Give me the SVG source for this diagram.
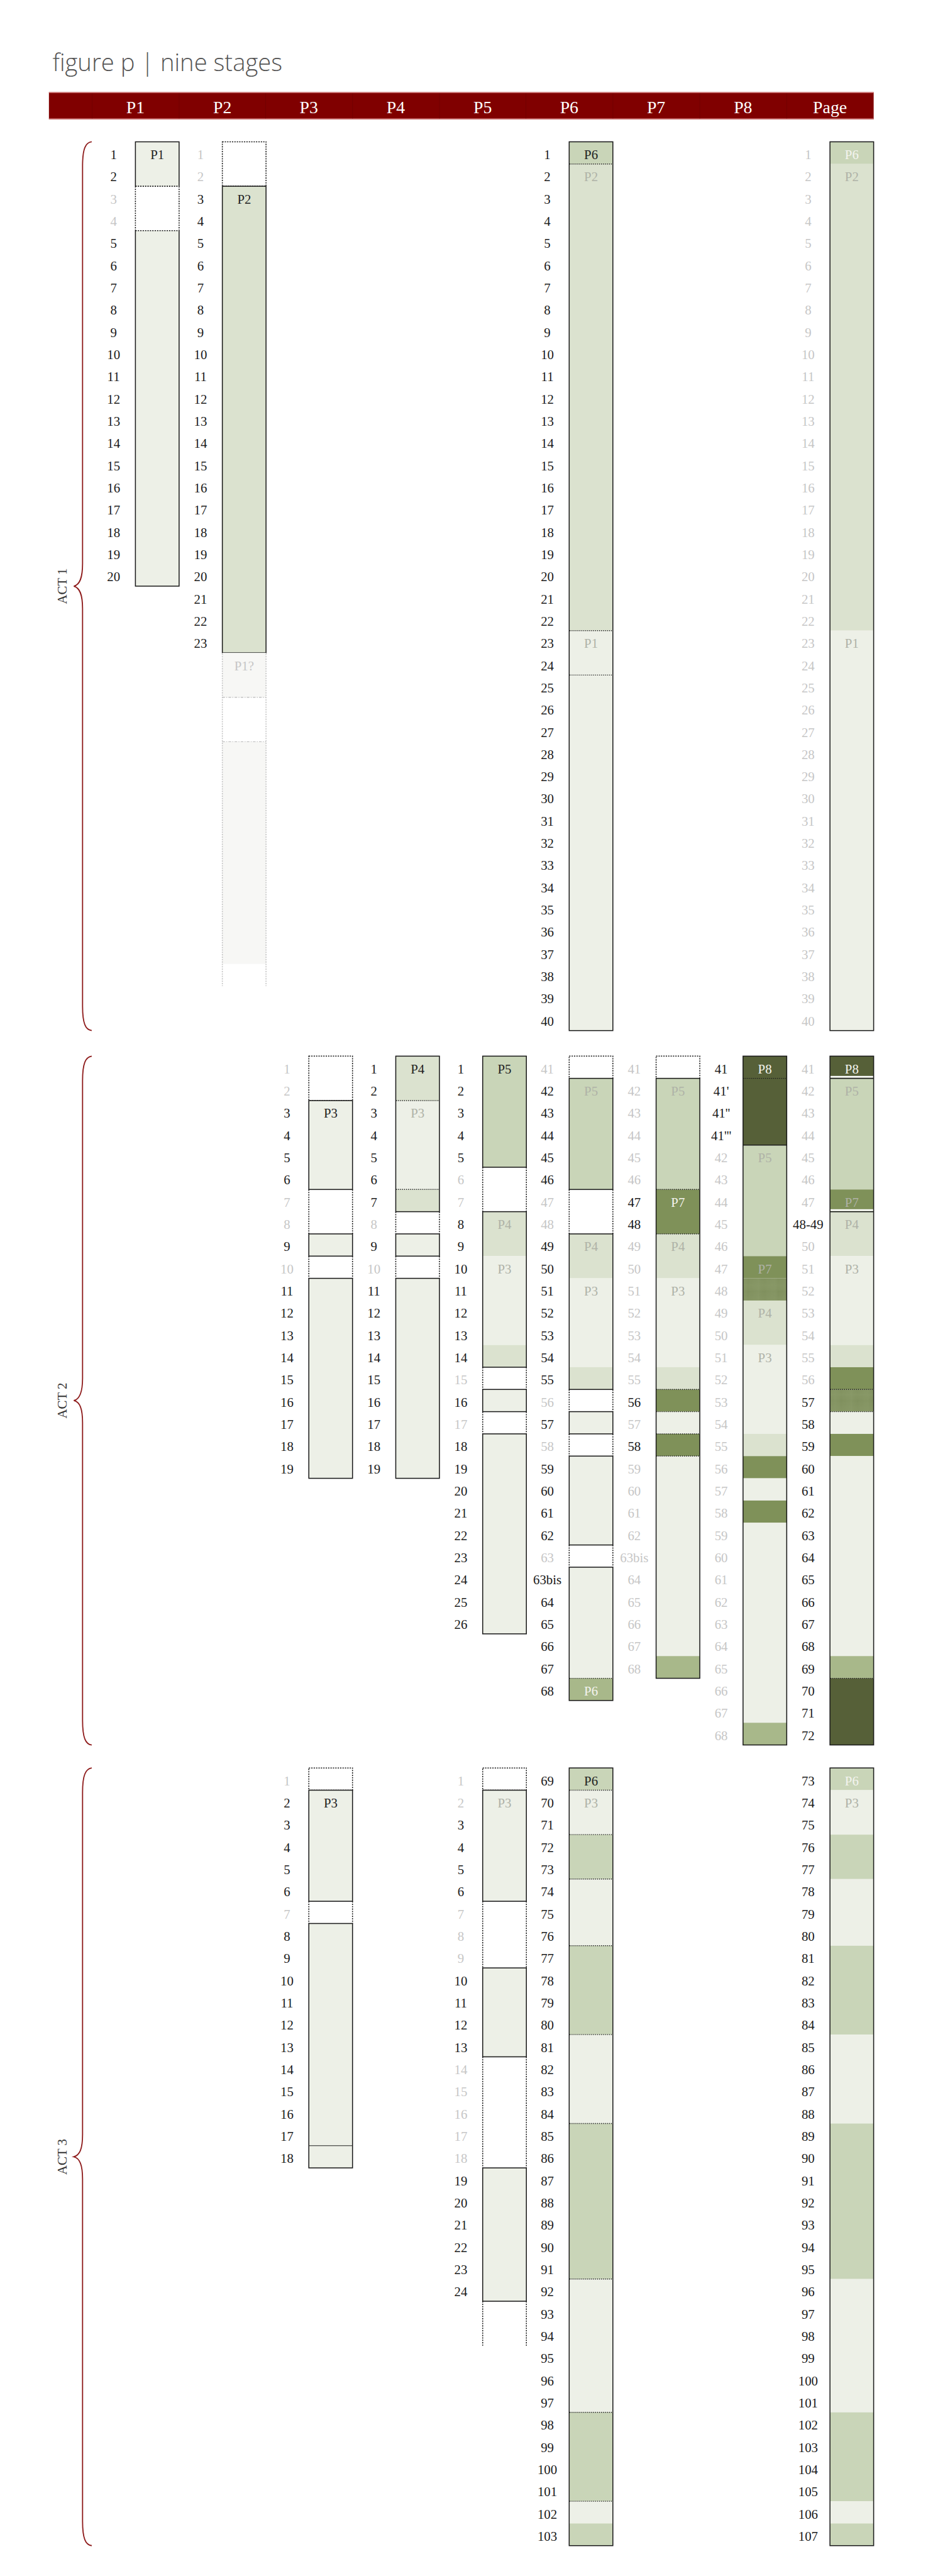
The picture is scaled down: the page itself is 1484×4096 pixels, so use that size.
<svg xmlns="http://www.w3.org/2000/svg" width="1484" height="4096" viewBox="0 0 1484 4096">
<style>
.s{fill:none;stroke:#1a1a1a;stroke-width:2.2}
.d{fill:none;stroke:#1a1a1a;stroke-width:2.2;stroke-dasharray:3 2.5}
.dl{fill:none;stroke:#1a1a1a;stroke-width:2;stroke-dasharray:2 2.5}
.gd{fill:none;stroke:#c4c4c4;stroke-width:2.2;stroke-dasharray:3 2.5}
.gdl{fill:none;stroke:#c4c4c4;stroke-width:2;stroke-dasharray:6 3 2 3}
.f1{fill:#edf0e7}.f2{fill:#dbe2cf}.f3{fill:#c9d5b8}.f4{fill:#a8b88a}.f5{fill:#7f9159}.f6{fill:#566038}.fg{fill:#f7f7f5}.fs{fill:url(#stip)}
.n{font-family:"Liberation Serif","Times New Roman",serif;font-size:30px;fill:#1a1a1a;text-anchor:middle}
.g{fill:#c6c6c6}
.k{fill:#1a1a1a}
.lb{fill:#222}
.lg{fill:#afb2a7}
.lw{fill:#f4f4ef}
.hd{font-family:"Liberation Serif","Times New Roman",serif;font-size:40px;fill:#fff;text-anchor:middle}
.br{fill:none;stroke:#8e1b1b;stroke-width:2.6}
.act{font-family:"Liberation Serif","Times New Roman",serif;font-size:30px;fill:#333;text-anchor:middle}
</style>
<defs>
<pattern id="stip" width="3" height="3" patternUnits="userSpaceOnUse"><rect width="3" height="3" fill="#8d9d6c"/><rect width="1.5" height="1.5" fill="#6c7c48"/></pattern>
</defs>
<g transform="scale(0.6948)">
<g id="title"><text x="120" y="163" font-family="'Open Sans','Liberation Sans',sans-serif" font-weight="300" font-size="55" fill="#555">figure p | nine stages</text></g>
<g id="header">
<rect x="112" y="211" width="1888" height="62" fill="#800000"/>
<path d="M112,212H2000M112,272H2000" stroke="#d07a7a" stroke-width="2"/>
<path d="M211,213V271M410,213V271M608,213V271M807,213V271M1006,213V271M1204,213V271M1403,213V271M1602,213V271M1801,213V271" stroke="#730000" stroke-width="1.5"/>
<text class="hd" x="310" y="259">P1</text><text class="hd" x="509" y="259">P2</text><text class="hd" x="707" y="259">P3</text><text class="hd" x="906" y="259">P4</text><text class="hd" x="1105" y="259">P5</text><text class="hd" x="1303" y="259">P6</text><text class="hd" x="1502" y="259">P7</text><text class="hd" x="1701" y="259">P8</text><text class="hd" x="1900" y="259">Page</text>
</g>
<g id="connectors"></g>
<g id="braces">
<path class="br" d="M210,324.5 C196,326 189,340 189,380 V1290 C189,1322 183,1338 169,1341.5 C183,1345 189,1361 189,1393 V2303 C189,2343 196,2357 210,2358.5"/>
<path class="br" d="M210,2417 C196,2419 189,2433 189,2473 V3154 C189,3186 183,3202 169,3205.2 C183,3208.5 189,3224 189,3256 V3937 C189,3977 196,3992 210,3993.35"/>
<path class="br" d="M210,4046 C196,4048 189,4062 189,4102 V4885 C189,4917 183,4932 169,4935.9 C183,4939.5 189,4955 189,4987 V5770 C189,5810 196,5824 210,5825.75"/>
<text class="act" transform="translate(152,1341.5) rotate(-90)">ACT 1</text>
<text class="act" transform="translate(152,3205.2) rotate(-90)">ACT 2</text>
<text class="act" transform="translate(152,4935.9) rotate(-90)">ACT 3</text>
</g>

<!-- ACT 1 -->
<g id="a1-P1">
<rect class="f1" x="310" y="324.5" width="100" height="101.7"/>
<rect class="f1" x="310" y="527.9" width="100" height="813.6"/>
<path class="s" d="M310,426.2V324.5H410V426.2M310,527.9V1341.5H410V527.9"/>
<path class="d" d="M310,426.2V527.9M410,426.2V527.9M310,426.2H410M310,527.9H410"/>
<text class="n lb" x="360" y="364">P1</text>
<text class="n" y="364"><tspan x="260">1</tspan><tspan x="260" dy="50.85">2</tspan><tspan x="260" dy="50.85" class="g">3</tspan><tspan x="260" dy="50.85" class="g">4</tspan><tspan x="260" dy="50.85">5</tspan><tspan x="260" dy="50.85">6</tspan><tspan x="260" dy="50.85">7</tspan><tspan x="260" dy="50.85">8</tspan><tspan x="260" dy="50.85">9</tspan><tspan x="260" dy="50.85">10</tspan><tspan x="260" dy="50.85">11</tspan><tspan x="260" dy="50.85">12</tspan><tspan x="260" dy="50.85">13</tspan><tspan x="260" dy="50.85">14</tspan><tspan x="260" dy="50.85">15</tspan><tspan x="260" dy="50.85">16</tspan><tspan x="260" dy="50.85">17</tspan><tspan x="260" dy="50.85">18</tspan><tspan x="260" dy="50.85">19</tspan><tspan x="260" dy="50.85">20</tspan></text>
</g>
<g id="a1-P2">
<rect class="d" x="509" y="324.5" width="100" height="101.7"/>
<rect class="s f2" x="509" y="426.2" width="100" height="1067.85"/>
<text class="n lb" x="559" y="465.7">P2</text>
<rect class="fg" x="509" y="1494.05" width="100" height="101.7"/>
<rect class="fg" x="509" y="1697.45" width="100" height="508.5"/>
<path class="gd" d="M509,1496V2256.8M609,1496V2256.8"/>
<path class="gdl" d="M509,1595.75H609M509,1697.45H609"/>
<text class="n g" x="559" y="1533.55">P1?</text>
<text class="n" y="364"><tspan x="459" class="g">1</tspan><tspan x="459" dy="50.85" class="g">2</tspan><tspan x="459" dy="50.85">3</tspan><tspan x="459" dy="50.85">4</tspan><tspan x="459" dy="50.85">5</tspan><tspan x="459" dy="50.85">6</tspan><tspan x="459" dy="50.85">7</tspan><tspan x="459" dy="50.85">8</tspan><tspan x="459" dy="50.85">9</tspan><tspan x="459" dy="50.85">10</tspan><tspan x="459" dy="50.85">11</tspan><tspan x="459" dy="50.85">12</tspan><tspan x="459" dy="50.85">13</tspan><tspan x="459" dy="50.85">14</tspan><tspan x="459" dy="50.85">15</tspan><tspan x="459" dy="50.85">16</tspan><tspan x="459" dy="50.85">17</tspan><tspan x="459" dy="50.85">18</tspan><tspan x="459" dy="50.85">19</tspan><tspan x="459" dy="50.85">20</tspan><tspan x="459" dy="50.85">21</tspan><tspan x="459" dy="50.85">22</tspan><tspan x="459" dy="50.85">23</tspan></text>
</g>
<g id="a1-P6">
<rect class="f3" x="1303" y="324.5" width="100" height="50.85"/>
<rect class="f2" x="1303" y="375.35" width="100" height="1067.85"/>
<rect class="f1" x="1303" y="1443.2" width="100" height="915.3"/>
<rect class="s" x="1303" y="324.5" width="100" height="2034"/>
<path class="dl" d="M1304,375.35H1402M1304,1443.2H1402M1304,1544.9H1402"/>
<text class="n lb" x="1353" y="364">P6</text><text class="n lg" x="1353" y="414.85">P2</text><text class="n lg" x="1353" y="1482.7">P1</text>
<text class="n" y="364"><tspan x="1253">1</tspan><tspan x="1253" dy="50.85">2</tspan><tspan x="1253" dy="50.85">3</tspan><tspan x="1253" dy="50.85">4</tspan><tspan x="1253" dy="50.85">5</tspan><tspan x="1253" dy="50.85">6</tspan><tspan x="1253" dy="50.85">7</tspan><tspan x="1253" dy="50.85">8</tspan><tspan x="1253" dy="50.85">9</tspan><tspan x="1253" dy="50.85">10</tspan><tspan x="1253" dy="50.85">11</tspan><tspan x="1253" dy="50.85">12</tspan><tspan x="1253" dy="50.85">13</tspan><tspan x="1253" dy="50.85">14</tspan><tspan x="1253" dy="50.85">15</tspan><tspan x="1253" dy="50.85">16</tspan><tspan x="1253" dy="50.85">17</tspan><tspan x="1253" dy="50.85">18</tspan><tspan x="1253" dy="50.85">19</tspan><tspan x="1253" dy="50.85">20</tspan><tspan x="1253" dy="50.85">21</tspan><tspan x="1253" dy="50.85">22</tspan><tspan x="1253" dy="50.85">23</tspan><tspan x="1253" dy="50.85">24</tspan><tspan x="1253" dy="50.85">25</tspan><tspan x="1253" dy="50.85">26</tspan><tspan x="1253" dy="50.85">27</tspan><tspan x="1253" dy="50.85">28</tspan><tspan x="1253" dy="50.85">29</tspan><tspan x="1253" dy="50.85">30</tspan><tspan x="1253" dy="50.85">31</tspan><tspan x="1253" dy="50.85">32</tspan><tspan x="1253" dy="50.85">33</tspan><tspan x="1253" dy="50.85">34</tspan><tspan x="1253" dy="50.85">35</tspan><tspan x="1253" dy="50.85">36</tspan><tspan x="1253" dy="50.85">37</tspan><tspan x="1253" dy="50.85">38</tspan><tspan x="1253" dy="50.85">39</tspan><tspan x="1253" dy="50.85">40</tspan></text>
</g>
<g id="a1-Page">
<rect class="f3" x="1900" y="324.5" width="100" height="50.85"/>
<rect class="f2" x="1900" y="375.35" width="100" height="1067.85"/>
<rect class="f1" x="1900" y="1443.2" width="100" height="915.3"/>
<rect class="s" x="1900" y="324.5" width="100" height="2034"/>
<text class="n lw" x="1950" y="364">P6</text><text class="n lg" x="1950" y="414.85">P2</text><text class="n lg" x="1950" y="1482.7">P1</text>
<text class="n g" y="364"><tspan x="1850">1</tspan><tspan x="1850" dy="50.85">2</tspan><tspan x="1850" dy="50.85">3</tspan><tspan x="1850" dy="50.85">4</tspan><tspan x="1850" dy="50.85">5</tspan><tspan x="1850" dy="50.85">6</tspan><tspan x="1850" dy="50.85">7</tspan><tspan x="1850" dy="50.85">8</tspan><tspan x="1850" dy="50.85">9</tspan><tspan x="1850" dy="50.85">10</tspan><tspan x="1850" dy="50.85">11</tspan><tspan x="1850" dy="50.85">12</tspan><tspan x="1850" dy="50.85">13</tspan><tspan x="1850" dy="50.85">14</tspan><tspan x="1850" dy="50.85">15</tspan><tspan x="1850" dy="50.85">16</tspan><tspan x="1850" dy="50.85">17</tspan><tspan x="1850" dy="50.85">18</tspan><tspan x="1850" dy="50.85">19</tspan><tspan x="1850" dy="50.85">20</tspan><tspan x="1850" dy="50.85">21</tspan><tspan x="1850" dy="50.85">22</tspan><tspan x="1850" dy="50.85">23</tspan><tspan x="1850" dy="50.85">24</tspan><tspan x="1850" dy="50.85">25</tspan><tspan x="1850" dy="50.85">26</tspan><tspan x="1850" dy="50.85">27</tspan><tspan x="1850" dy="50.85">28</tspan><tspan x="1850" dy="50.85">29</tspan><tspan x="1850" dy="50.85">30</tspan><tspan x="1850" dy="50.85">31</tspan><tspan x="1850" dy="50.85">32</tspan><tspan x="1850" dy="50.85">33</tspan><tspan x="1850" dy="50.85">34</tspan><tspan x="1850" dy="50.85">35</tspan><tspan x="1850" dy="50.85">36</tspan><tspan x="1850" dy="50.85">37</tspan><tspan x="1850" dy="50.85">38</tspan><tspan x="1850" dy="50.85">39</tspan><tspan x="1850" dy="50.85">40</tspan></text>
</g>

<!-- ACT 2 -->
<g id="a2-P3">
<rect class="d" x="707" y="2417" width="100" height="101.7"/>
<path class="d" d="M707,2722.1V2823.8M807,2722.1V2823.8M707,2874.65V2925.5M807,2874.65V2925.5"/>
<rect class="s f1" x="707" y="2518.7" width="100" height="203.4"/>
<rect class="s f1" x="707" y="2823.8" width="100" height="50.85"/>
<rect class="s f1" x="707" y="2925.5" width="100" height="457.65"/>
<text class="n lb" x="757" y="2558.2">P3</text>
<text class="n" y="2456.5"><tspan x="657" class="g">1</tspan><tspan x="657" dy="50.85" class="g">2</tspan><tspan x="657" dy="50.85">3</tspan><tspan x="657" dy="50.85">4</tspan><tspan x="657" dy="50.85">5</tspan><tspan x="657" dy="50.85">6</tspan><tspan x="657" dy="50.85" class="g">7</tspan><tspan x="657" dy="50.85" class="g">8</tspan><tspan x="657" dy="50.85">9</tspan><tspan x="657" dy="50.85" class="g">10</tspan><tspan x="657" dy="50.85">11</tspan><tspan x="657" dy="50.85">12</tspan><tspan x="657" dy="50.85">13</tspan><tspan x="657" dy="50.85">14</tspan><tspan x="657" dy="50.85">15</tspan><tspan x="657" dy="50.85">16</tspan><tspan x="657" dy="50.85">17</tspan><tspan x="657" dy="50.85">18</tspan><tspan x="657" dy="50.85">19</tspan></text>
</g>
<g id="a2-P4">
<rect class="f2" x="906" y="2417" width="100" height="101.7"/>
<rect class="f1" x="906" y="2518.7" width="100" height="203.4"/>
<rect class="f2" x="906" y="2722.1" width="100" height="50.85"/>
<rect class="s" x="906" y="2417" width="100" height="355.95"/>
<path class="dl" d="M907,2518.7H1005M907,2722.1H1005"/>
<path class="d" d="M906,2772.95V2823.8M1006,2772.95V2823.8M906,2874.65V2925.5M1006,2874.65V2925.5"/>
<rect class="s f1" x="906" y="2823.8" width="100" height="50.85"/>
<rect class="s f1" x="906" y="2925.5" width="100" height="457.65"/>
<text class="n lb" x="956" y="2456.5">P4</text><text class="n lg" x="956" y="2558.2">P3</text>
<text class="n" y="2456.5"><tspan x="856">1</tspan><tspan x="856" dy="50.85">2</tspan><tspan x="856" dy="50.85">3</tspan><tspan x="856" dy="50.85">4</tspan><tspan x="856" dy="50.85">5</tspan><tspan x="856" dy="50.85">6</tspan><tspan x="856" dy="50.85">7</tspan><tspan x="856" dy="50.85" class="g">8</tspan><tspan x="856" dy="50.85">9</tspan><tspan x="856" dy="50.85" class="g">10</tspan><tspan x="856" dy="50.85">11</tspan><tspan x="856" dy="50.85">12</tspan><tspan x="856" dy="50.85">13</tspan><tspan x="856" dy="50.85">14</tspan><tspan x="856" dy="50.85">15</tspan><tspan x="856" dy="50.85">16</tspan><tspan x="856" dy="50.85">17</tspan><tspan x="856" dy="50.85">18</tspan><tspan x="856" dy="50.85">19</tspan></text>
</g>
<g id="a2-P5">
<rect class="s f3" x="1105" y="2417" width="100" height="254.25"/>
<path class="d" d="M1105,2671.25V2772.95M1205,2671.25V2772.95M1105,3128.9V3179.75M1205,3128.9V3179.75M1105,3230.6V3281.45M1205,3230.6V3281.45"/>
<rect class="f2" x="1105" y="2772.95" width="100" height="101.7"/>
<rect class="f1" x="1105" y="2874.65" width="100" height="203.4"/>
<rect class="f2" x="1105" y="3078.05" width="100" height="50.85"/>
<rect class="s" x="1105" y="2772.95" width="100" height="355.95"/>
<rect class="s f1" x="1105" y="3179.75" width="100" height="50.85"/>
<rect class="s f1" x="1105" y="3281.45" width="100" height="457.65"/>
<text class="n lb" x="1155" y="2456.5">P5</text><text class="n lg" x="1155" y="2812.45">P4</text><text class="n lg" x="1155" y="2914.15">P3</text>
<text class="n" y="2456.5"><tspan x="1055">1</tspan><tspan x="1055" dy="50.85">2</tspan><tspan x="1055" dy="50.85">3</tspan><tspan x="1055" dy="50.85">4</tspan><tspan x="1055" dy="50.85">5</tspan><tspan x="1055" dy="50.85" class="g">6</tspan><tspan x="1055" dy="50.85" class="g">7</tspan><tspan x="1055" dy="50.85">8</tspan><tspan x="1055" dy="50.85">9</tspan><tspan x="1055" dy="50.85">10</tspan><tspan x="1055" dy="50.85">11</tspan><tspan x="1055" dy="50.85">12</tspan><tspan x="1055" dy="50.85">13</tspan><tspan x="1055" dy="50.85">14</tspan><tspan x="1055" dy="50.85" class="g">15</tspan><tspan x="1055" dy="50.85">16</tspan><tspan x="1055" dy="50.85" class="g">17</tspan><tspan x="1055" dy="50.85">18</tspan><tspan x="1055" dy="50.85">19</tspan><tspan x="1055" dy="50.85">20</tspan><tspan x="1055" dy="50.85">21</tspan><tspan x="1055" dy="50.85">22</tspan><tspan x="1055" dy="50.85">23</tspan><tspan x="1055" dy="50.85">24</tspan><tspan x="1055" dy="50.85">25</tspan><tspan x="1055" dy="50.85">26</tspan></text>
</g>
<g id="a2-P6">
<rect class="d" x="1303" y="2417" width="100" height="50.85"/>
<rect class="s f3" x="1303" y="2467.85" width="100" height="254.25"/>
<path class="d" d="M1303,2722.1V2823.8M1403,2722.1V2823.8M1303,3179.75V3230.6M1403,3179.75V3230.6M1303,3281.45V3332.3M1403,3281.45V3332.3M1303,3535.7V3586.55M1403,3535.7V3586.55"/>
<rect class="f2" x="1303" y="2823.8" width="100" height="101.7"/>
<rect class="f1" x="1303" y="2925.5" width="100" height="203.4"/>
<rect class="f2" x="1303" y="3128.9" width="100" height="50.85"/>
<rect class="s" x="1303" y="2823.8" width="100" height="355.95"/>
<rect class="s f1" x="1303" y="3230.6" width="100" height="50.85"/>
<rect class="s f1" x="1303" y="3332.3" width="100" height="203.4"/>
<rect class="f1" x="1303" y="3586.55" width="100" height="254.25"/>
<rect class="f4" x="1303" y="3840.8" width="100" height="50.85"/>
<rect class="s" x="1303" y="3586.55" width="100" height="305.1"/>
<path class="dl" d="M1304,3840.8H1402"/>
<text class="n lg" x="1353" y="2507.35">P5</text><text class="n lg" x="1353" y="2863.3">P4</text><text class="n lg" x="1353" y="2965">P3</text><text class="n lw" x="1353" y="3880.3">P6</text>
<text class="n" y="2456.5"><tspan x="1253" class="g">41</tspan><tspan x="1253" dy="50.85">42</tspan><tspan x="1253" dy="50.85">43</tspan><tspan x="1253" dy="50.85">44</tspan><tspan x="1253" dy="50.85">45</tspan><tspan x="1253" dy="50.85">46</tspan><tspan x="1253" dy="50.85" class="g">47</tspan><tspan x="1253" dy="50.85" class="g">48</tspan><tspan x="1253" dy="50.85">49</tspan><tspan x="1253" dy="50.85">50</tspan><tspan x="1253" dy="50.85">51</tspan><tspan x="1253" dy="50.85">52</tspan><tspan x="1253" dy="50.85">53</tspan><tspan x="1253" dy="50.85">54</tspan><tspan x="1253" dy="50.85">55</tspan><tspan x="1253" dy="50.85" class="g">56</tspan><tspan x="1253" dy="50.85">57</tspan><tspan x="1253" dy="50.85" class="g">58</tspan><tspan x="1253" dy="50.85">59</tspan><tspan x="1253" dy="50.85">60</tspan><tspan x="1253" dy="50.85">61</tspan><tspan x="1253" dy="50.85">62</tspan><tspan x="1253" dy="50.85" class="g">63</tspan><tspan x="1253" dy="50.85">63bis</tspan><tspan x="1253" dy="50.85">64</tspan><tspan x="1253" dy="50.85">65</tspan><tspan x="1253" dy="50.85">66</tspan><tspan x="1253" dy="50.85">67</tspan><tspan x="1253" dy="50.85">68</tspan></text>
</g>
<g id="a2-P7">
<rect class="d" x="1502" y="2417" width="100" height="50.85"/>
<rect class="f3" x="1502" y="2467.85" width="100" height="254.25"/>
<rect class="f5" x="1502" y="2722.1" width="100" height="101.7"/>
<rect class="f2" x="1502" y="2823.8" width="100" height="101.7"/>
<rect class="f1" x="1502" y="2925.5" width="100" height="203.4"/>
<rect class="f2" x="1502" y="3128.9" width="100" height="50.85"/>
<rect class="f5" x="1502" y="3179.75" width="100" height="50.85"/>
<rect class="f1" x="1502" y="3230.6" width="100" height="50.85"/>
<rect class="f5" x="1502" y="3281.45" width="100" height="50.85"/>
<rect class="f1" x="1502" y="3332.3" width="100" height="457.65"/>
<rect class="f4" x="1502" y="3789.95" width="100" height="50.85"/>
<rect class="s" x="1502" y="2467.85" width="100" height="1372.95"/>
<path class="dl" d="M1503,2722.1H1601M1503,2823.8H1601M1503,3179.75H1601M1503,3230.6H1601M1503,3281.45H1601M1503,3332.3H1601"/>
<text class="n lg" x="1552" y="2507.35">P5</text><text class="n lw" x="1552" y="2761.6">P7</text><text class="n lg" x="1552" y="2863.3">P4</text><text class="n lg" x="1552" y="2965">P3</text>
<text class="n g" y="2456.5"><tspan x="1452">41</tspan><tspan x="1452" dy="50.85">42</tspan><tspan x="1452" dy="50.85">43</tspan><tspan x="1452" dy="50.85">44</tspan><tspan x="1452" dy="50.85">45</tspan><tspan x="1452" dy="50.85">46</tspan><tspan x="1452" dy="50.85" class="k">47</tspan><tspan x="1452" dy="50.85" class="k">48</tspan><tspan x="1452" dy="50.85">49</tspan><tspan x="1452" dy="50.85">50</tspan><tspan x="1452" dy="50.85">51</tspan><tspan x="1452" dy="50.85">52</tspan><tspan x="1452" dy="50.85">53</tspan><tspan x="1452" dy="50.85">54</tspan><tspan x="1452" dy="50.85">55</tspan><tspan x="1452" dy="50.85" class="k">56</tspan><tspan x="1452" dy="50.85">57</tspan><tspan x="1452" dy="50.85" class="k">58</tspan><tspan x="1452" dy="50.85">59</tspan><tspan x="1452" dy="50.85">60</tspan><tspan x="1452" dy="50.85">61</tspan><tspan x="1452" dy="50.85">62</tspan><tspan x="1452" dy="50.85">63bis</tspan><tspan x="1452" dy="50.85">64</tspan><tspan x="1452" dy="50.85">65</tspan><tspan x="1452" dy="50.85">66</tspan><tspan x="1452" dy="50.85">67</tspan><tspan x="1452" dy="50.85">68</tspan></text>
</g>
<g id="a2-P8">
<rect class="f6" x="1701" y="2417" width="100" height="203.4"/>
<rect class="f3" x="1701" y="2620.4" width="100" height="254.25"/>
<rect class="f5" x="1701" y="2874.65" width="100" height="50.85"/>
<rect class="fs" x="1701" y="2925.5" width="100" height="50.85"/>
<rect class="f2" x="1701" y="2976.35" width="100" height="101.7"/>
<rect class="f1" x="1701" y="3078.05" width="100" height="203.4"/>
<rect class="f2" x="1701" y="3281.45" width="100" height="50.85"/>
<rect class="f5" x="1701" y="3332.3" width="100" height="50.85"/>
<rect class="f1" x="1701" y="3383.15" width="100" height="50.85"/>
<rect class="f5" x="1701" y="3434" width="100" height="50.85"/>
<rect class="f1" x="1701" y="3484.85" width="100" height="457.65"/>
<rect class="f4" x="1701" y="3942.5" width="100" height="50.85"/>
<rect class="s" x="1701" y="2417" width="100" height="1576.35"/>
<path class="dl" d="M1702,2467.85H1800"/>
<path class="s" d="M1701,2620.4H1801"/>
<text class="n lw" x="1751" y="2456.5">P8</text><text class="n lg" x="1751" y="2659.9">P5</text><text class="n lg" x="1751" y="2914.15">P7</text><text class="n lg" x="1751" y="3015.85">P4</text><text class="n lg" x="1751" y="3117.55">P3</text>
<text class="n g" y="2456.5"><tspan x="1651" class="k">41</tspan><tspan x="1651" dy="50.85" class="k">41'</tspan><tspan x="1651" dy="50.85" class="k">41''</tspan><tspan x="1651" dy="50.85" class="k">41'''</tspan><tspan x="1651" dy="50.85">42</tspan><tspan x="1651" dy="50.85">43</tspan><tspan x="1651" dy="50.85">44</tspan><tspan x="1651" dy="50.85">45</tspan><tspan x="1651" dy="50.85">46</tspan><tspan x="1651" dy="50.85">47</tspan><tspan x="1651" dy="50.85">48</tspan><tspan x="1651" dy="50.85">49</tspan><tspan x="1651" dy="50.85">50</tspan><tspan x="1651" dy="50.85">51</tspan><tspan x="1651" dy="50.85">52</tspan><tspan x="1651" dy="50.85">53</tspan><tspan x="1651" dy="50.85">54</tspan><tspan x="1651" dy="50.85">55</tspan><tspan x="1651" dy="50.85">56</tspan><tspan x="1651" dy="50.85">57</tspan><tspan x="1651" dy="50.85">58</tspan><tspan x="1651" dy="50.85">59</tspan><tspan x="1651" dy="50.85">60</tspan><tspan x="1651" dy="50.85">61</tspan><tspan x="1651" dy="50.85">62</tspan><tspan x="1651" dy="50.85">63</tspan><tspan x="1651" dy="50.85">64</tspan><tspan x="1651" dy="50.85">65</tspan><tspan x="1651" dy="50.85">66</tspan><tspan x="1651" dy="50.85">67</tspan><tspan x="1651" dy="50.85">68</tspan></text>
</g>
<g id="a2-Page">
<rect class="f6" x="1900" y="2417" width="100" height="50.85"/>
<rect class="f3" x="1900" y="2467.85" width="100" height="254.25"/>
<rect class="f5" x="1900" y="2722.1" width="100" height="50.85"/>
<rect class="f2" x="1900" y="2772.95" width="100" height="101.7"/>
<rect class="f1" x="1900" y="2874.65" width="100" height="203.4"/>
<rect class="f2" x="1900" y="3078.05" width="100" height="50.85"/>
<rect class="f5" x="1900" y="3128.9" width="100" height="50.85"/>
<rect class="fs" x="1900" y="3179.75" width="100" height="50.85"/>
<rect class="f1" x="1900" y="3230.6" width="100" height="50.85"/>
<rect class="f5" x="1900" y="3281.45" width="100" height="50.85"/>
<rect class="f1" x="1900" y="3332.3" width="100" height="457.65"/>
<rect class="f4" x="1900" y="3789.95" width="100" height="50.85"/>
<rect class="f6" x="1900" y="3840.8" width="100" height="152.55"/>
<rect x="1901" y="2462.3" width="98" height="4" fill="#fff"/>
<rect x="1901" y="2767.4" width="98" height="4" fill="#fff"/>
<path class="s" d="M1900,2467.85H2000M1900,2772.95H2000"/>
<path class="dl" d="M1901,3179.75H1999M1901,3230.6H1999M1901,3840.8H1999"/>
<rect class="s" x="1900" y="2417" width="100" height="1576.35"/>
<text class="n lw" x="1950" y="2456.5">P8</text><text class="n lg" x="1950" y="2507.35">P5</text><text class="n lg" x="1950" y="2761.6">P7</text><text class="n lg" x="1950" y="2812.45">P4</text><text class="n lg" x="1950" y="2914.15">P3</text>
<text class="n g" y="2456.5"><tspan x="1850">41</tspan><tspan x="1850" dy="50.85">42</tspan><tspan x="1850" dy="50.85">43</tspan><tspan x="1850" dy="50.85">44</tspan><tspan x="1850" dy="50.85">45</tspan><tspan x="1850" dy="50.85">46</tspan><tspan x="1850" dy="50.85">47</tspan><tspan x="1850" dy="50.85" class="k">48-49</tspan><tspan x="1850" dy="50.85">50</tspan><tspan x="1850" dy="50.85">51</tspan><tspan x="1850" dy="50.85">52</tspan><tspan x="1850" dy="50.85">53</tspan><tspan x="1850" dy="50.85">54</tspan><tspan x="1850" dy="50.85">55</tspan><tspan x="1850" dy="50.85">56</tspan><tspan x="1850" dy="50.85" class="k">57</tspan><tspan x="1850" dy="50.85" class="k">58</tspan><tspan x="1850" dy="50.85" class="k">59</tspan><tspan x="1850" dy="50.85" class="k">60</tspan><tspan x="1850" dy="50.85" class="k">61</tspan><tspan x="1850" dy="50.85" class="k">62</tspan><tspan x="1850" dy="50.85" class="k">63</tspan><tspan x="1850" dy="50.85" class="k">64</tspan><tspan x="1850" dy="50.85" class="k">65</tspan><tspan x="1850" dy="50.85" class="k">66</tspan><tspan x="1850" dy="50.85" class="k">67</tspan><tspan x="1850" dy="50.85" class="k">68</tspan><tspan x="1850" dy="50.85" class="k">69</tspan><tspan x="1850" dy="50.85" class="k">70</tspan><tspan x="1850" dy="50.85" class="k">71</tspan><tspan x="1850" dy="50.85" class="k">72</tspan></text>
</g>

<!-- ACT 3 -->
<g id="a3-P3">
<rect class="d" x="707" y="4046" width="100" height="50.85"/>
<rect class="s f1" x="707" y="4096.85" width="100" height="254.25"/>
<path class="d" d="M707,4351.1V4401.95M807,4351.1V4401.95"/>
<rect class="s f1" x="707" y="4401.95" width="100" height="559.35"/>
<path d="M708,4910.45H806" stroke="#1a1a1a" stroke-width="1.4"/>
<text class="n lb" x="757" y="4136.35">P3</text>
<text class="n" y="4085.5"><tspan x="657" class="g">1</tspan><tspan x="657" dy="50.85">2</tspan><tspan x="657" dy="50.85">3</tspan><tspan x="657" dy="50.85">4</tspan><tspan x="657" dy="50.85">5</tspan><tspan x="657" dy="50.85">6</tspan><tspan x="657" dy="50.85" class="g">7</tspan><tspan x="657" dy="50.85">8</tspan><tspan x="657" dy="50.85">9</tspan><tspan x="657" dy="50.85">10</tspan><tspan x="657" dy="50.85">11</tspan><tspan x="657" dy="50.85">12</tspan><tspan x="657" dy="50.85">13</tspan><tspan x="657" dy="50.85">14</tspan><tspan x="657" dy="50.85">15</tspan><tspan x="657" dy="50.85">16</tspan><tspan x="657" dy="50.85">17</tspan><tspan x="657" dy="50.85">18</tspan></text>
</g>
<g id="a3-P5">
<rect class="d" x="1105" y="4046" width="100" height="50.85"/>
<rect class="s f1" x="1105" y="4096.85" width="100" height="254.25"/>
<path class="d" d="M1105,4351.1V4503.65M1205,4351.1V4503.65M1105,4707.05V4961.3M1205,4707.05V4961.3M1105,5266.4V5368.1M1205,5266.4V5368.1"/>
<rect class="s f1" x="1105" y="4503.65" width="100" height="203.4"/>
<rect class="s f1" x="1105" y="4961.3" width="100" height="305.1"/>
<text class="n lg" x="1155" y="4136.35">P3</text>
<text class="n" y="4085.5"><tspan x="1055" class="g">1</tspan><tspan x="1055" dy="50.85" class="g">2</tspan><tspan x="1055" dy="50.85">3</tspan><tspan x="1055" dy="50.85">4</tspan><tspan x="1055" dy="50.85">5</tspan><tspan x="1055" dy="50.85">6</tspan><tspan x="1055" dy="50.85" class="g">7</tspan><tspan x="1055" dy="50.85" class="g">8</tspan><tspan x="1055" dy="50.85" class="g">9</tspan><tspan x="1055" dy="50.85">10</tspan><tspan x="1055" dy="50.85">11</tspan><tspan x="1055" dy="50.85">12</tspan><tspan x="1055" dy="50.85">13</tspan><tspan x="1055" dy="50.85" class="g">14</tspan><tspan x="1055" dy="50.85" class="g">15</tspan><tspan x="1055" dy="50.85" class="g">16</tspan><tspan x="1055" dy="50.85" class="g">17</tspan><tspan x="1055" dy="50.85" class="g">18</tspan><tspan x="1055" dy="50.85">19</tspan><tspan x="1055" dy="50.85">20</tspan><tspan x="1055" dy="50.85">21</tspan><tspan x="1055" dy="50.85">22</tspan><tspan x="1055" dy="50.85">23</tspan><tspan x="1055" dy="50.85">24</tspan></text>
</g>
<g id="a3-P6">
<rect class="f3" x="1303" y="4046" width="100" height="50.85"/>
<rect class="f1" x="1303" y="4096.85" width="100" height="101.7"/>
<rect class="f3" x="1303" y="4198.55" width="100" height="101.7"/>
<rect class="f1" x="1303" y="4300.25" width="100" height="152.55"/>
<rect class="f3" x="1303" y="4452.8" width="100" height="203.4"/>
<rect class="f1" x="1303" y="4656.2" width="100" height="203.4"/>
<rect class="f3" x="1303" y="4859.6" width="100" height="355.95"/>
<rect class="f1" x="1303" y="5215.55" width="100" height="305.1"/>
<rect class="f3" x="1303" y="5520.65" width="100" height="203.4"/>
<rect class="f1" x="1303" y="5724.05" width="100" height="50.85"/>
<rect class="f3" x="1303" y="5774.9" width="100" height="50.85"/>
<rect class="s" x="1303" y="4046" width="100" height="1779.75"/>
<path class="dl" d="M1304,4096.85H1402M1304,4198.55H1402M1304,4300.25H1402M1304,4452.8H1402M1304,4656.2H1402M1304,4859.6H1402M1304,5215.55H1402M1304,5520.65H1402M1304,5724.05H1402"/>
<text class="n lb" x="1353" y="4085.5">P6</text><text class="n lg" x="1353" y="4136.35">P3</text>
<text class="n" y="4085.5"><tspan x="1253">69</tspan><tspan x="1253" dy="50.85">70</tspan><tspan x="1253" dy="50.85">71</tspan><tspan x="1253" dy="50.85">72</tspan><tspan x="1253" dy="50.85">73</tspan><tspan x="1253" dy="50.85">74</tspan><tspan x="1253" dy="50.85">75</tspan><tspan x="1253" dy="50.85">76</tspan><tspan x="1253" dy="50.85">77</tspan><tspan x="1253" dy="50.85">78</tspan><tspan x="1253" dy="50.85">79</tspan><tspan x="1253" dy="50.85">80</tspan><tspan x="1253" dy="50.85">81</tspan><tspan x="1253" dy="50.85">82</tspan><tspan x="1253" dy="50.85">83</tspan><tspan x="1253" dy="50.85">84</tspan><tspan x="1253" dy="50.85">85</tspan><tspan x="1253" dy="50.85">86</tspan><tspan x="1253" dy="50.85">87</tspan><tspan x="1253" dy="50.85">88</tspan><tspan x="1253" dy="50.85">89</tspan><tspan x="1253" dy="50.85">90</tspan><tspan x="1253" dy="50.85">91</tspan><tspan x="1253" dy="50.85">92</tspan><tspan x="1253" dy="50.85">93</tspan><tspan x="1253" dy="50.85">94</tspan><tspan x="1253" dy="50.85">95</tspan><tspan x="1253" dy="50.85">96</tspan><tspan x="1253" dy="50.85">97</tspan><tspan x="1253" dy="50.85">98</tspan><tspan x="1253" dy="50.85">99</tspan><tspan x="1253" dy="50.85">100</tspan><tspan x="1253" dy="50.85">101</tspan><tspan x="1253" dy="50.85">102</tspan><tspan x="1253" dy="50.85">103</tspan></text>
</g>
<g id="a3-Page">
<rect class="f3" x="1900" y="4046" width="100" height="50.85"/>
<rect class="f1" x="1900" y="4096.85" width="100" height="101.7"/>
<rect class="f3" x="1900" y="4198.55" width="100" height="101.7"/>
<rect class="f1" x="1900" y="4300.25" width="100" height="152.55"/>
<rect class="f3" x="1900" y="4452.8" width="100" height="203.4"/>
<rect class="f1" x="1900" y="4656.2" width="100" height="203.4"/>
<rect class="f3" x="1900" y="4859.6" width="100" height="355.95"/>
<rect class="f1" x="1900" y="5215.55" width="100" height="305.1"/>
<rect class="f3" x="1900" y="5520.65" width="100" height="203.4"/>
<rect class="f1" x="1900" y="5724.05" width="100" height="50.85"/>
<rect class="f3" x="1900" y="5774.9" width="100" height="50.85"/>
<rect class="s" x="1900" y="4046" width="100" height="1779.75"/>
<text class="n lw" x="1950" y="4085.5">P6</text><text class="n lg" x="1950" y="4136.35">P3</text>
<text class="n" y="4085.5"><tspan x="1850">73</tspan><tspan x="1850" dy="50.85">74</tspan><tspan x="1850" dy="50.85">75</tspan><tspan x="1850" dy="50.85">76</tspan><tspan x="1850" dy="50.85">77</tspan><tspan x="1850" dy="50.85">78</tspan><tspan x="1850" dy="50.85">79</tspan><tspan x="1850" dy="50.85">80</tspan><tspan x="1850" dy="50.85">81</tspan><tspan x="1850" dy="50.85">82</tspan><tspan x="1850" dy="50.85">83</tspan><tspan x="1850" dy="50.85">84</tspan><tspan x="1850" dy="50.85">85</tspan><tspan x="1850" dy="50.85">86</tspan><tspan x="1850" dy="50.85">87</tspan><tspan x="1850" dy="50.85">88</tspan><tspan x="1850" dy="50.85">89</tspan><tspan x="1850" dy="50.85">90</tspan><tspan x="1850" dy="50.85">91</tspan><tspan x="1850" dy="50.85">92</tspan><tspan x="1850" dy="50.85">93</tspan><tspan x="1850" dy="50.85">94</tspan><tspan x="1850" dy="50.85">95</tspan><tspan x="1850" dy="50.85">96</tspan><tspan x="1850" dy="50.85">97</tspan><tspan x="1850" dy="50.85">98</tspan><tspan x="1850" dy="50.85">99</tspan><tspan x="1850" dy="50.85">100</tspan><tspan x="1850" dy="50.85">101</tspan><tspan x="1850" dy="50.85">102</tspan><tspan x="1850" dy="50.85">103</tspan><tspan x="1850" dy="50.85">104</tspan><tspan x="1850" dy="50.85">105</tspan><tspan x="1850" dy="50.85">106</tspan><tspan x="1850" dy="50.85">107</tspan></text>
</g>
</g>
</svg>
